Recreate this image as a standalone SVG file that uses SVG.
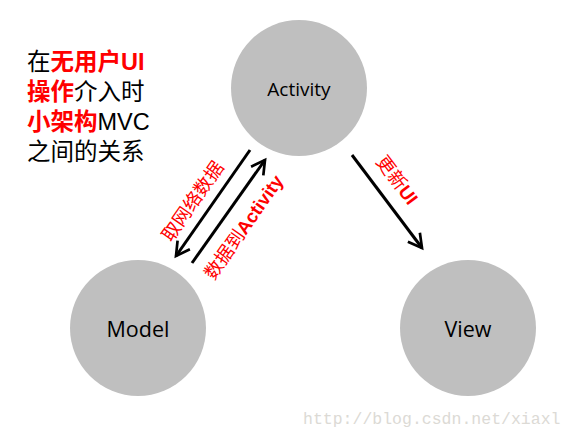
<svg xmlns="http://www.w3.org/2000/svg" width="575" height="440" viewBox="0 0 575 440">
<style>
.node{fill:#bfbfbf}
.nl{font-family:"Open Sans","Liberation Sans",sans-serif;fill:#000;text-anchor:middle}
.cj{font-family:"Liberation Sans","Noto Sans CJK SC",sans-serif}
.red{fill:#ff0000;font-weight:bold}
.lbl{font-family:"Liberation Sans","Noto Sans CJK SC",sans-serif;fill:#ff0000;font-size:18.5px;text-anchor:middle}
.ar{stroke:#000;stroke-width:3;fill:none}
</style>
<defs>
<marker id="ah" viewBox="0 0 12 12" refX="10" refY="6" markerWidth="6" markerHeight="6" markerUnits="strokeWidth" orient="auto">
<path d="M1,1 L10,6 L1,11" fill="none" stroke="#000" stroke-width="1.8"/>
</marker>
</defs>
<rect width="575" height="440" fill="#fff"/>
<g id="activity"><circle class="node" cx="299" cy="88" r="68"/><text class="nl" x="299" y="96" font-size="19">Activity</text></g>
<g id="model"><circle class="node" cx="138" cy="328" r="68"/><text class="nl" x="138" y="337" font-size="21.5">Model</text></g>
<g id="view"><circle class="node" cx="468" cy="328" r="68"/><text class="nl" x="468" y="337" font-size="21.5">View</text></g>
<g id="connectors">
<line class="ar" x1="250" y1="150" x2="176" y2="256" marker-end="url(#ah)"/>
<line class="ar" x1="192" y1="263" x2="265" y2="160" marker-end="url(#ah)"/>
<line class="ar" x1="352" y1="155" x2="422" y2="248" marker-end="url(#ah)"/>
</g>
<g id="labels">
<text class="lbl" transform="translate(198,205) rotate(-55)">取网络数据</text>
<text class="lbl" transform="translate(249,231) rotate(-55)">数据到<tspan font-weight="bold">Activity</tspan></text>
<text class="lbl" transform="translate(392,184) rotate(53)">更新<tspan font-weight="bold">UI</tspan></text>
</g>
<g id="note" class="cj" font-size="23.5" fill="#000">
<text x="27" y="70">在<tspan class="red">无用户UI</tspan></text>
<text x="27" y="100"><tspan class="red">操作</tspan>介入时</text>
<text x="27" y="130"><tspan class="red">小架构</tspan>MVC</text>
<text x="27" y="160">之间的关系</text>
</g>
<text x="303" y="424" font-family="Liberation Mono,monospace" font-size="16.5" fill="#dcdad5">http://blog.csdn.net/xiaxl</text>
</svg>
